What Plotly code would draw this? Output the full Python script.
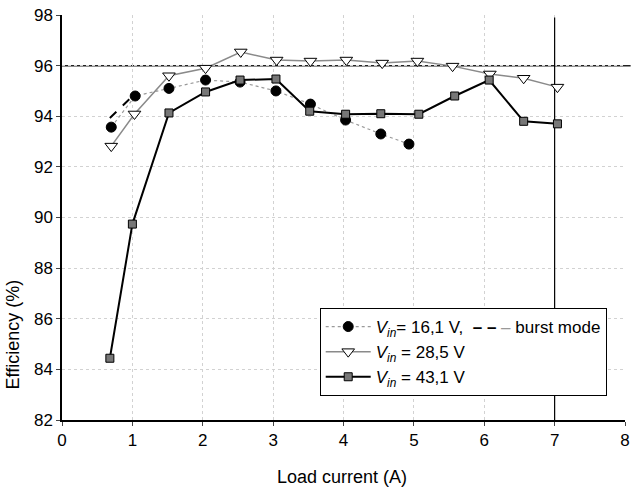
import plotly.graph_objects as go

# Data
x_161 = [0.70, 1.04, 1.52, 2.04, 2.53, 3.04, 3.53, 4.03, 4.53, 4.93]
y_161 = [93.57, 94.80, 95.10, 95.43, 95.35, 95.00, 94.48, 93.85, 93.30, 92.90]

x_burst = [0.68, 0.99]
y_burst = [93.93, 94.76]

x_285 = [0.70, 1.03, 1.52, 2.04, 2.54, 3.05, 3.53, 4.04, 4.55, 5.05, 5.55, 6.08, 6.56, 7.04]
y_285 = [92.82, 94.09, 95.60, 95.90, 96.54, 96.22, 96.18, 96.22, 96.10, 96.18, 95.98, 95.67, 95.50, 95.15]

x_431 = [0.68, 1.00, 1.52, 2.04, 2.53, 3.04, 3.52, 4.03, 4.53, 5.07, 5.58, 6.07, 6.56, 7.04]
y_431 = [84.44, 89.74, 94.13, 94.96, 95.43, 95.47, 94.20, 94.08, 94.10, 94.08, 94.80, 95.43, 93.80, 93.70]

x_ticks = [0, 1, 2, 3, 4, 5, 6, 7, 8]
y_ticks = [82, 84, 86, 88, 90, 92, 94, 96, 98]

name_161 = "<i>V<sub>in</sub></i>= 16,1 V,  <b>– –</b> <span style='color:#999'>–</span> burst mode"
name_285 = "<i>V<sub>in</sub></i> = 28,5 V"
name_431 = "<i>V<sub>in</sub></i> = 43,1 V"

FONT = "Arial, Liberation Sans, sans-serif"

fig = go.Figure()

fig.add_trace(go.Scatter(
    x=x_161, y=y_161, mode="lines+markers", name=name_161,
    line=dict(color="#9a9a9a", width=1.2, dash="dot"),
    marker=dict(symbol="circle", size=10, color="black", line=dict(color="black", width=1)),
))
fig.add_trace(go.Scatter(
    x=x_burst, y=y_burst, mode="lines", showlegend=False,
    line=dict(color="black", width=2, dash="dash"),
))
fig.add_trace(go.Scatter(
    x=x_285, y=y_285, mode="lines+markers", name=name_285,
    line=dict(color="#8a8a8a", width=1.5),
    marker=dict(symbol="triangle-down", size=11, color="white", line=dict(color="black", width=1)),
))
fig.add_trace(go.Scatter(
    x=x_431, y=y_431, mode="lines+markers", name=name_431,
    line=dict(color="black", width=2),
    marker=dict(symbol="square", size=8, color="#777777", line=dict(color="black", width=1)),
))

# reference lines
fig.add_shape(type="line", xref="paper", yref="y", x0=0, x1=1.01, y0=96, y1=96,
              line=dict(color="#222222", width=1.5), layer="between")
fig.add_shape(type="line", xref="x", yref="y", x0=7, x1=7, y0=97.9, y1=82,
              line=dict(color="black", width=1.2), layer="between")

fig.add_annotation(text="Efficiency (%)", textangle=-90, xref="paper", yref="paper",
                   x=(13 - 62) / 568, y=(420 - 334) / 405, xanchor="center", yanchor="middle",
                   showarrow=False, font=dict(family=FONT, size=18, color="black"))
fig.add_annotation(text="Load current (A)", xref="paper", yref="paper",
                   x=(344 - 62) / 568, y=(420 - 477) / 405, xanchor="center", yanchor="middle",
                   showarrow=False, font=dict(family=FONT, size=18, color="black"))

fig.update_layout(
    width=633, height=490,
    margin=dict(l=62, r=3, t=15, b=70),
    paper_bgcolor="white", plot_bgcolor="white",
    font=dict(family=FONT, size=17, color="black"),
    legend=dict(
        x=(322 - 62) / 568, y=(420 - 308) / 405, xanchor="left", yanchor="top",
        bordercolor="black", borderwidth=1, bgcolor="white",
        font=dict(family=FONT, size=17, color="black"),
        itemwidth=45, tracegroupgap=0,
    ),
    xaxis=dict(
        range=[0, 8], tickvals=x_ticks, ticks="outside", ticklen=4,
        showline=True, linecolor="black", linewidth=1.5,
        showgrid=True, gridcolor="#d2d2d2", griddash="dot", gridwidth=1,
        zeroline=False, tickfont=dict(size=17), ticklabeloverflow="allow",
    ),
    yaxis=dict(
        range=[82, 98], tickvals=y_ticks, ticks="outside", ticklen=4,
        showline=True, linecolor="black", linewidth=1.5,
        showgrid=True, gridcolor="#d2d2d2", griddash="dot", gridwidth=1,
        zeroline=False, tickfont=dict(size=17), ticklabeloverflow="allow",
    ),
)

fig.write_html("out.html")
